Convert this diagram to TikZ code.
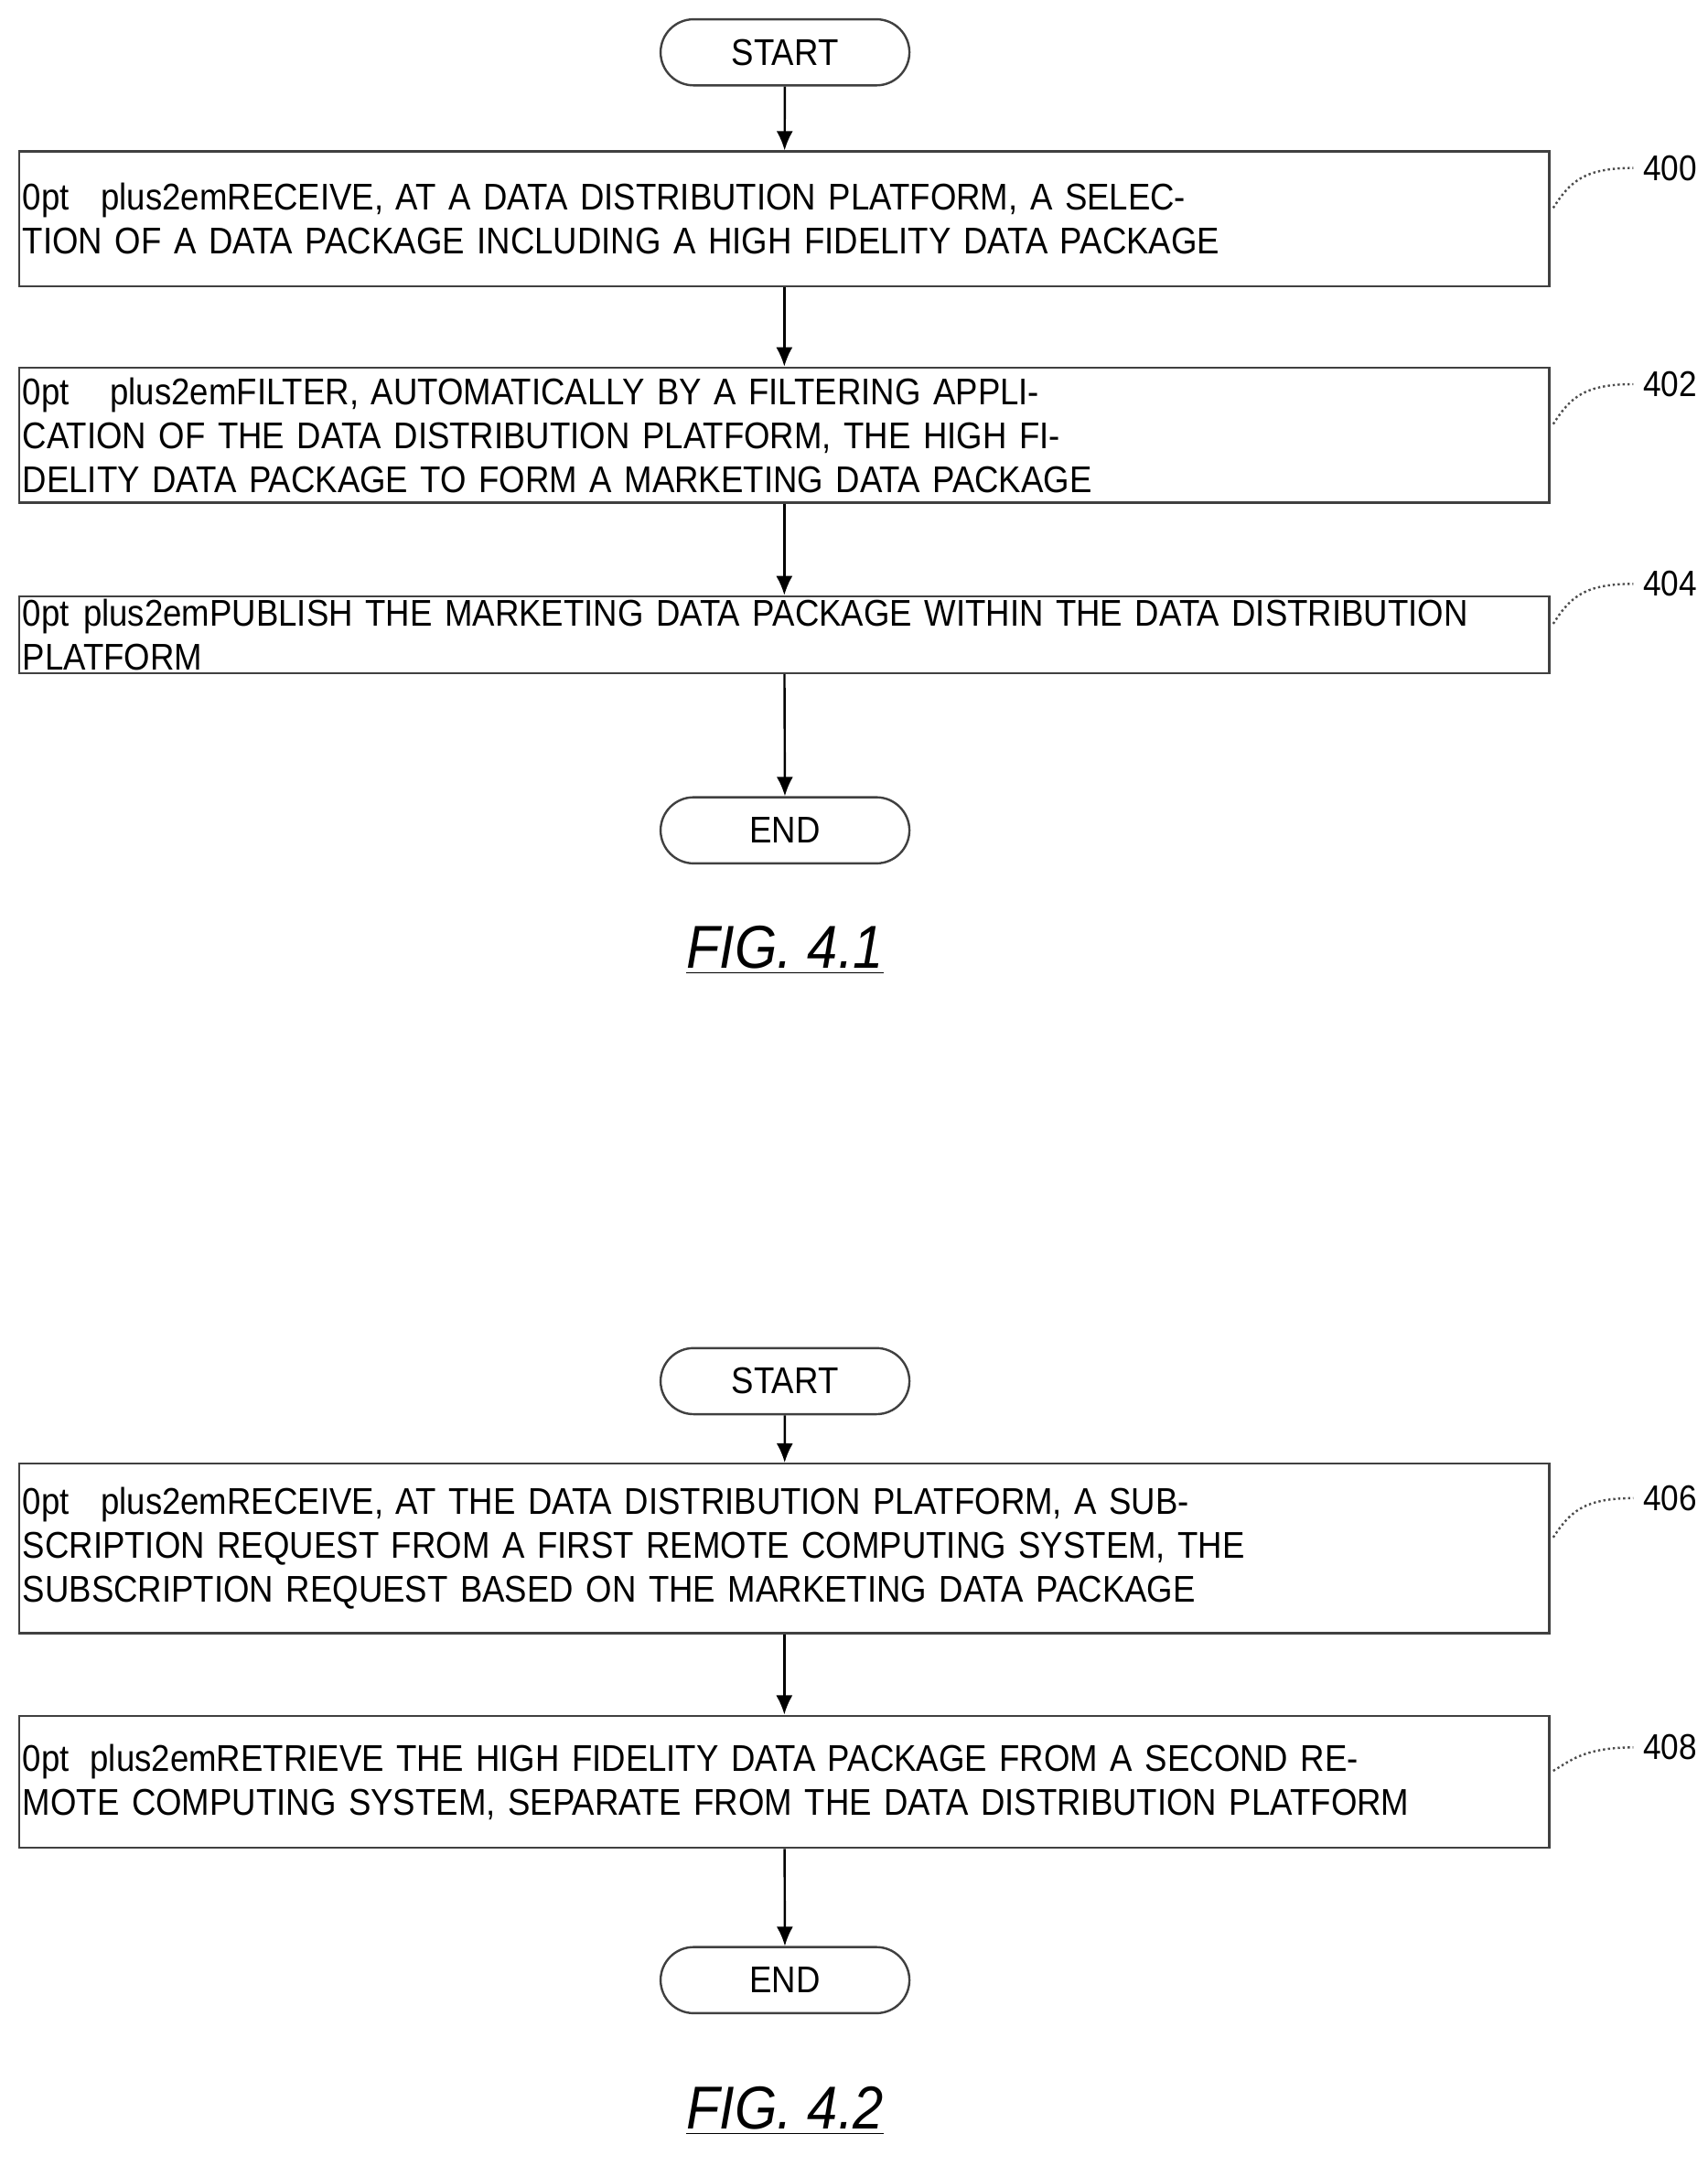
\documentclass[tikz,border=0pt]{standalone}
\usepackage{fontspec}
\setmainfont[FakeStretch=0.9]{Liberation Sans}
\usetikzlibrary{shapes,positioning,calc,arrows.meta}
\tikzset{
  flowbox/.style={draw=black!75, thick, minimum width=555.5pt, text width=553pt, align=center, font=\fontsize{13.5}{16}\selectfont\hyphenpenalty=10000, inner sep=1pt},
  term/.style={draw=black!75, thick, rounded rectangle, minimum width=97pt, minimum height=24pt, font=\fontsize{13.5}{16}\selectfont},
  flow/.style={-{Latex[length=7pt,width=6pt]}, thick},
  ref/.style={font=\fontsize{13}{15}\selectfont},
  leader/.style={black!70, densely dotted, thick},
  figlab/.style={font=\fontsize{22}{26}\selectfont\itshape}
}
\begin{document}
\begin{tikzpicture}[x=0.5pt,y=-0.5pt]
\useasboundingbox (0,0) rectangle (1240,1573);

% FIG. 4.1
\node[term] (s1) at (570,38) {START};
\node[flowbox, minimum height=49pt] (b400) at (569.5,159) {RECEIVE, AT A DATA DISTRIBUTION PLATFORM, A SELECTION OF A DATA PACKAGE INCLUDING A HIGH FIDELITY DATA PACKAGE};
\node[flowbox, minimum height=49pt] (b402) at (569.5,316) {FILTER, AUTOMATICALLY BY A FILTERING APPLICATION OF THE DATA DISTRIBUTION PLATFORM, THE HIGH FIDELITY DATA PACKAGE TO FORM A MARKETING DATA PACKAGE};
\node[flowbox, minimum height=25pt] (b404) at (569.5,461) {PUBLISH THE MARKETING DATA PACKAGE WITHIN THE DATA DISTRIBUTION PLATFORM};
\node[term] (e1) at (570,603) {END};
\node[figlab] (f1) at (570,690) {\underline{FIG. 4.1}};

\draw[flow] (s1) -- (b400);
\draw[flow] (b400) -- (b402);
\draw[flow] (b402) -- (b404);
\draw[flow] (b404) -- (e1);

% FIG. 4.2
\node[term] (s2) at (570,1003) {START};
\node[flowbox, minimum height=61.5pt] (b406) at (569.5,1124.5) {RECEIVE, AT THE DATA DISTRIBUTION PLATFORM, A SUBSCRIPTION REQUEST FROM A FIRST REMOTE COMPUTING SYSTEM, THE SUBSCRIPTION REQUEST BASED ON THE MARKETING DATA PACKAGE};
\node[flowbox, minimum height=48pt] (b408) at (569.5,1294) {RETRIEVE THE HIGH FIDELITY DATA PACKAGE FROM A SECOND REMOTE COMPUTING SYSTEM, SEPARATE FROM THE DATA DISTRIBUTION PLATFORM};
\node[term] (e2) at (570,1438) {END};
\node[figlab] (f2) at (570,1533) {\underline{FIG. 4.2}};

\draw[flow] (s2) -- (b406);
\draw[flow] (b406) -- (b408);
\draw[flow] (b408) -- (e2);

% reference numerals
\foreach \b/\n/\y in {b400/400/122, b402/402/279, b404/404/424, b406/406/1088, b408/408/1269}{
  \node[ref, anchor=west] (r\n) at (1186,\y) {\n};
  \draw[leader] ($(\b.east)+(2,-8)$) .. controls (1140,\y+10) and (1150,\y) .. (r\n.west);
}
\end{tikzpicture}
\end{document}
